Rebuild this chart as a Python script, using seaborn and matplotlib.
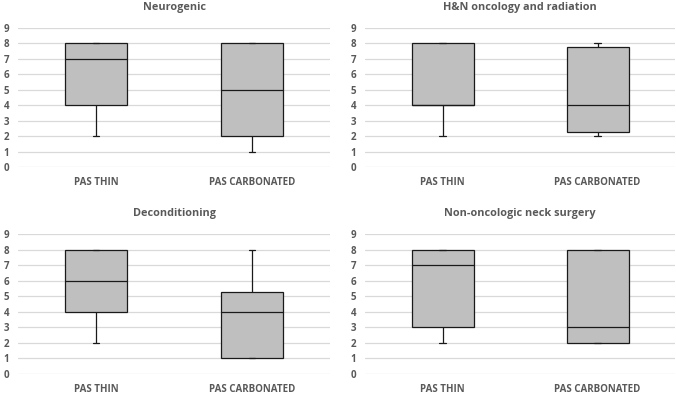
import numpy as np
import pandas as pd
import matplotlib
matplotlib.use("Agg")
import matplotlib.pyplot as plt
import seaborn as sns

# Panel titles
titles = ["Neurogenic", "H&N oncology and radiation",
          "Deconditioning", "Non-oncologic neck surgery"]
groups = ["PAS THIN", "PAS CARBONATED"]

# Five-number summaries: min, Q1, median, Q3, max
neuro_thin = [2, 4, 7, 8, 8]
neuro_carb = [1, 2, 5, 8, 8]
hn_thin = [2, 4, 4, 8, 8]
hn_carb = [2, 2.25, 4, 7.75, 8]
decond_thin = [2, 4, 6, 8, 8]
decond_carb = [1, 1, 4, 5.25, 8]
nononc_thin = [2, 3, 7, 8, 8]
nononc_carb = [2, 2, 3, 8, 8]

panels = [(neuro_thin, neuro_carb), (hn_thin, hn_carb),
          (decond_thin, decond_carb), (nononc_thin, nononc_carb)]
yticks = list(range(0, 10))

sns.set_theme(style="white")
plt.rcParams['font.family'] = ['Open Sans', 'DejaVu Sans']
txt = "#595959"

fig = plt.figure(figsize=(6.76, 3.95), dpi=100)
W, H = 676, 395
boxes = [(18, 28, 330, 167), (365, 28, 675, 167),
         (18, 234, 330, 374), (365, 234, 675, 374)]

for (x0, y0, x1, y1), title, (a, b) in zip(boxes, titles, panels):
    ax = fig.add_axes([x0 / W, 1 - y1 / H, (x1 - x0) / W, (y1 - y0) / H])
    df = pd.DataFrame({"group": [groups[0]] * len(a) + [groups[1]] * len(b),
                       "value": a + b})
    sns.boxplot(data=df, x="group", y="value", order=groups, ax=ax,
                color="#BFBFBF", saturation=1, linecolor="#1a1a1a",
                linewidth=0.9, width=0.4, whis=(0, 100), fliersize=0,
                capwidths=0.04)
    ax.set_ylim(0, 9)
    ax.set_xlim(-0.5, 1.5)
    ax.set_yticks(yticks)
    ax.yaxis.grid(True, color="#D9D9D9", linewidth=0.9)
    ax.set_axisbelow(True)
    for s in ax.spines.values():
        s.set_visible(False)
    ax.set_xlabel("")
    ax.set_ylabel("")
    ax.tick_params(axis="both", length=0, labelsize=7, labelcolor=txt)
    ax.tick_params(axis="x", pad=7.5)
    ax.tick_params(axis="y", pad=6.5)
    for lab in ax.get_xticklabels() + ax.get_yticklabels():
        lab.set_fontweight("bold")
    ax.set_title(title, fontsize=7.8, fontweight="bold", color=txt, pad=13)

fig.savefig("out.png", dpi=100)
